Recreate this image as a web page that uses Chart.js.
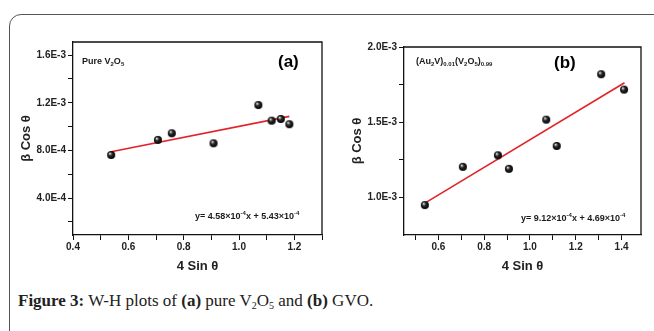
<!DOCTYPE html>
<html>
<head>
<meta charset="utf-8">
<script src="https://cdn.jsdelivr.net/npm/chart.js@4.4.1/dist/chart.umd.min.js"></script>
<style>
  html, body { margin: 0; padding: 0; background: #fff; }
  body { width: 654px; height: 331px; position: relative; overflow: hidden; font-family: "Liberation Sans", Arial, sans-serif; }
  #frame { position: absolute; left: 9px; top: 14px; width: 800px; height: 400px; border: 1.5px solid #555; border-top-left-radius: 12px; box-sizing: border-box; }
  canvas { position: absolute; top: 0; }
  .note { position: absolute; font-weight: bold; color: #1a1a1a; white-space: nowrap; }
  .small { font-size: 9px; line-height: 9px; }
  .small sub { font-size: 6px; vertical-align: -2px; line-height: 0; }
  .small sup { font-size: 6px; vertical-align: 4px; line-height: 0; }
  .tag { font-size: 17px; line-height: 17px; color: #000; }
  #caption { position: absolute; left: 18px; top: 292px; font-family: "Liberation Serif", "Times New Roman", serif; font-size: 17px; line-height: 17px; color: #222; white-space: nowrap; }
  #caption sub { font-size: 10px; vertical-align: -3px; line-height: 0; }
</style>
</head>
<body>
<div id="frame"></div>

<canvas id="chartA" width="330" height="290" style="left:0"></canvas>
<canvas id="chartB" width="324" height="290" style="left:330px"></canvas>

<div class="note small" style="left:82px; top:57px">Pure V<sub>2</sub>O<sub>5</sub></div>
<div class="note tag" style="left:278px; top:53px">(a)</div>
<div class="note small" style="left:195px; top:212px">y= 4.58×10<sup>-4</sup>x + 5.43×10<sup>-4</sup></div>

<div class="note small" style="left:416px; top:57px">(Au<sub>2</sub>V)<sub>0.01</sub>(V<sub>2</sub>O<sub>5</sub>)<sub>0.99</sub></div>
<div class="note tag" style="left:554px; top:54px">(b)</div>
<div class="note small" style="left:521px; top:214px">y= 9.12×10<sup>-4</sup>x + 4.69×10<sup>-4</sup></div>

<div id="caption"><b>Figure 3:</b> W-H plots of <b>(a)</b> pure V<sub>2</sub>O<sub>5</sub> and <b>(b)</b> GVO.</div>

<script>
// ---- (a) pure V2O5 ----
const xA = [0.538, 0.707, 0.757, 0.908, 1.070, 1.118, 1.151, 1.182];
const yA = [0.762e-3, 0.888e-3, 0.944e-3, 0.860e-3, 1.181e-3, 1.050e-3, 1.064e-3, 1.020e-3];
const fitXA = [0.538, 1.182];
const fitYA = [0.789e-3, 1.086e-3];
const xTicksA = [0.4, 0.5, 0.6, 0.7, 0.8, 0.9, 1.0, 1.1, 1.2, 1.3];
const xMajorA = [0.4, 0.6, 0.8, 1.0, 1.2];
const xLabelsA = ['0.4', '0.6', '0.8', '1.0', '1.2'];
const yTicksA = [2e-4, 4e-4, 6e-4, 8e-4, 1.0e-3, 1.2e-3, 1.4e-3, 1.6e-3];
const yMajorA = [4e-4, 8e-4, 1.2e-3, 1.6e-3];
const yLabelsA = ['4.0E-4', '8.0E-4', '1.2E-3', '1.6E-3'];

// ---- (b) GVO ----
const xB = [0.541, 0.707, 0.860, 0.908, 1.071, 1.117, 1.311, 1.411];
const yB = [0.949e-3, 1.203e-3, 1.280e-3, 1.190e-3, 1.517e-3, 1.342e-3, 1.819e-3, 1.717e-3];
const fitXB = [0.541, 1.413];
const fitYB = [0.962e-3, 1.762e-3];
const xTicksB = [0.5, 0.6, 0.7, 0.8, 0.9, 1.0, 1.1, 1.2, 1.3, 1.4];
const xMajorB = [0.6, 0.8, 1.0, 1.2, 1.4];
const xLabelsB = ['0.6', '0.8', '1.0', '1.2', '1.4'];
const yTicksB = [1.0e-3, 1.25e-3, 1.5e-3, 1.75e-3, 2.0e-3];
const yMajorB = [1.0e-3, 1.5e-3, 2.0e-3];
const yLabelsB = ['1.0E-3', '1.5E-3', '2.0E-3'];

// shaded black ball used as point marker
function makeBall(r) {
    const s = r * 2 + 2;
    const c = document.createElement('canvas');
    c.width = c.height = s;
    const g = c.getContext('2d');
    const grad = g.createRadialGradient(s / 2 - r * 0.35, s / 2 - r * 0.4, r * 0.1, s / 2, s / 2, r);
    grad.addColorStop(0, '#e0e0e0');
    grad.addColorStop(0.4, '#2a2a2a');
    grad.addColorStop(1, '#000');
    g.fillStyle = grad;
    g.beginPath();
    g.arc(s / 2, s / 2, r, 0, Math.PI * 2);
    g.fill();
    return c;
}
const ball = makeBall(4);

// closes the plot frame on the top and right
const frameBox = {
    id: 'frameBox',
    afterDraw(chart) {
        const { ctx, chartArea: a } = chart;
        ctx.save();
        ctx.strokeStyle = '#111';
        ctx.lineWidth = 1.3;
        ctx.beginPath();
        ctx.moveTo(a.left, a.top);
        ctx.lineTo(a.right, a.top);
        ctx.lineTo(a.right, a.bottom);
        ctx.stroke();
        ctx.restore();
    }
};

function pickLabel(majors, labels, value) {
    const i = majors.findIndex(m => Math.abs(m - value) < 1e-9);
    return i >= 0 ? labels[i] : '';
}

function toPoints(xs, ys) {
    return xs.map((x, i) => ({ x, y: ys[i] }));
}

const tickFont = { family: 'Liberation Sans', size: 10, weight: 'bold' };
const titleFont = { family: 'Liberation Sans', size: 13, weight: 'bold' };

function buildWH(id, d) {
    new Chart(document.getElementById(id), {
        type: 'scatter',
        data: {
            datasets: [
                {
                    type: 'line',
                    data: toPoints(d.fitX, d.fitY),
                    borderColor: '#e3232b',
                    borderWidth: 1.6,
                    pointRadius: 0,
                    order: 1
                },
                {
                    data: toPoints(d.xs, d.ys),
                    pointStyle: ball,
                    pointRadius: 4,
                    order: 0
                }
            ]
        },
        options: {
            responsive: false,
            animation: false,
            layout: { autoPadding: false, padding: d.padding },
            plugins: { legend: { display: false }, tooltip: { enabled: false } },
            scales: {
                x: {
                    type: 'linear',
                    min: d.xRange[0],
                    max: d.xRange[1],
                    afterBuildTicks: s => { s.ticks = d.xTicks.map(v => ({ value: v })); },
                    afterFit: s => { s.height = 55; },
                    ticks: {
                        autoSkip: false,
                        maxRotation: 0,
                        padding: 1,
                        color: '#222',
                        font: tickFont,
                        callback: v => pickLabel(d.xMajor, d.xLabels, v)
                    },
                    grid: { display: true, drawOnChartArea: false, tickLength: 5, tickColor: '#111', tickWidth: 1 },
                    border: { display: true, color: '#111', width: 1.3 },
                    title: { display: true, text: '4 Sin θ', color: '#222', font: titleFont, padding: { top: 0, bottom: 16 } }
                },
                y: {
                    type: 'linear',
                    min: d.yRange[0],
                    max: d.yRange[1],
                    afterBuildTicks: s => { s.ticks = d.yTicks.map(v => ({ value: v })); },
                    afterFit: s => { s.width = d.yWidth; },
                    ticks: {
                        autoSkip: false,
                        padding: 2,
                        color: '#222',
                        font: tickFont,
                        callback: v => pickLabel(d.yMajor, d.yLabels, v)
                    },
                    grid: { display: true, drawOnChartArea: false, tickLength: 5, tickColor: '#111', tickWidth: 1 },
                    border: { display: true, color: '#111', width: 1.3 },
                    title: { display: true, text: 'β Cos θ', color: '#222', font: titleFont, padding: { top: d.yTitlePad, bottom: 0 } }
                }
            }
        },
        plugins: [frameBox]
    });
}

buildWH('chartA', {
    xs: xA, ys: yA, fitX: fitXA, fitY: fitYA,
    xRange: [0.4, 1.3], yRange: [0.9e-4, 1.71e-3],
    xTicks: xTicksA, xMajor: xMajorA, xLabels: xLabelsA,
    yTicks: yTicksA, yMajor: yMajorA, yLabels: yLabelsA,
    padding: { top: 42, right: 8, left: 0, bottom: 0 },
    yWidth: 73, yTitlePad: 19
});

buildWH('chartB', {
    xs: xB, ys: yB, fitX: fitXB, fitY: fitYB,
    xRange: [0.45, 1.485], yRange: [0.75e-3, 2.0e-3],
    xTicks: xTicksB, xMajor: xMajorB, xLabels: xLabelsB,
    yTicks: yTicksB, yMajor: yMajorB, yLabels: yLabelsB,
    padding: { top: 47, right: 13, left: 0, bottom: 0 },
    yWidth: 74, yTitlePad: 20
});
</script>
</body>
</html>
